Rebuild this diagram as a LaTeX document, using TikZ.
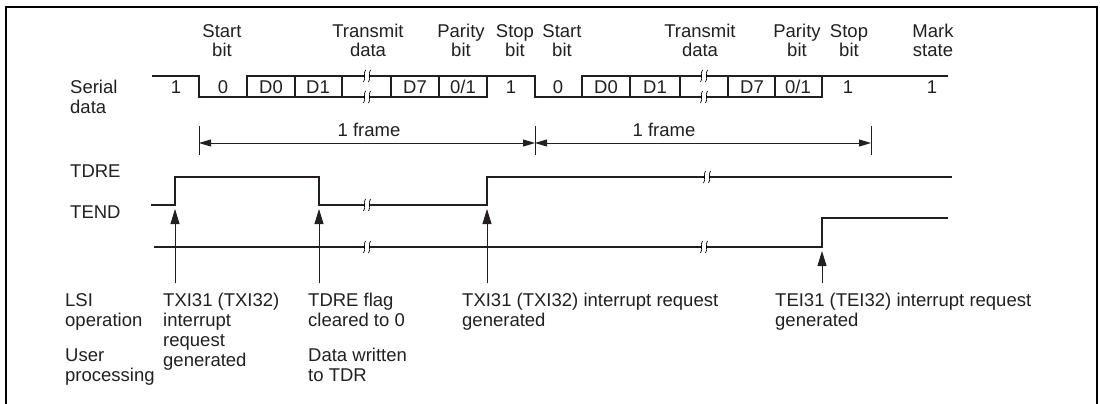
\documentclass[tikz,border=0pt]{standalone}
\usepackage{fontspec}
\setmainfont{Liberation Sans}
\usetikzlibrary{arrows.meta,positioning,calc}
\definecolor{ink}{HTML}{231F20}

% small break mark on a time line
\newcommand\gapmark[2]{%
  \fill[white] (#1-2.5,#2-6) rectangle (#1+2.5,#2+6);
  \draw[line width=0.7pt] (#1-3.5,#2+6) .. controls (#1-0.5,#2+2) and (#1-4.5,#2-2) .. (#1-1.5,#2-6);
  \draw[line width=0.7pt] (#1+1.5,#2+6) .. controls (#1+4.5,#2+2) and (#1+0.5,#2-2) .. (#1+3.5,#2-6);
}

\begin{document}
\begin{tikzpicture}[x=1pt,y=-1pt,
    txt/.style={inner sep=0pt, font=\fontsize{18.5}{20}\selectfont, text=ink, align=left, anchor=base west},
    ctxt/.style={txt, align=center, anchor=base},
    bus/.style={line width=2pt, line join=miter, draw=ink},
    wave/.style={line width=2.6pt, line join=miter, draw=ink},
    dim/.style={line width=0.9pt, draw=ink},
    evt/.style={line width=0.9pt, draw=ink, fill=ink, -{Triangle[length=15pt,width=9pt]}}]
  \useasboundingbox (0,0) rectangle (1100,404);
  \draw[line width=2.2pt] (6,404) -- (6,7) -- (1097,7) -- (1097,404);

  % field names (anchored on the last line)
  \node[ctxt] (st1) at (222,57) {Start\\bit};
  \node[ctxt] (tx1) at (368,57) {Transmit\\data};
  \node[ctxt] (pa1) at (461,57) {Parity\\bit};
  \node[ctxt] (sp1) at (515,57) {Stop\\bit};
  \node[ctxt] (st2) at (562,57) {Start\\bit};
  \node[ctxt] (tx2) at (700,57) {Transmit\\data};
  \node[ctxt] (pa2) at (797,57) {Parity\\bit};
  \node[ctxt] (sp2) at (849,57) {Stop\\bit};
  \node[ctxt] (mk) at (933,57) {Mark\\state};

  % serial data
  \node[txt] (serial) at (70,113) {Serial\\data};
  \draw[bus] (152,76) -- (199,76) -- (199,97) -- (487,97) -- (487,76) -- (535,76)
    -- (535,97) -- (822,97) -- (822,76) -- (948,76);
  \draw[bus] (247,97) -- (247,76) -- (487,76);
  \draw[bus] (582,97) -- (582,76) -- (822,76);
  \foreach \x in {295,342,391,439,630,680,728,775}
    \draw[bus] (\x,76) -- (\x,97);
  \foreach \x in {367,704} {
    \gapmark{\x}{76}
    \gapmark{\x}{97}
  }
  \foreach \x/\v [count=\i] in {176/1,223/0,271/D0,318/D1,415/D7,463/0\slash 1,511/1,
      558/0,606/D0,655/D1,752/D7,798/0\slash 1,848/1,932/1}
    \node[ctxt] (b\i) at (\x,93) {\v};

  % frame length
  \coordinate (f0) at (199,143);
  \coordinate (f1) at (535,143);
  \coordinate (f2) at (871,143);
  \foreach \c in {f0,f1,f2}
    \draw[dim] ($(\c)+(0,-17)$) -- ($(\c)+(0,12)$);
  \draw[dim, {Triangle[length=12pt,width=7pt]}-{Triangle[length=12pt,width=7pt]}] (f0) -- (f1);
  \draw[dim, {Triangle[length=12pt,width=7pt]}-{Triangle[length=12pt,width=7pt]}] (f1) -- (f2);
  \node[ctxt] (fr1) at (369,136) {1 frame};
  \node[ctxt] (fr2) at (664,136) {1 frame};

  % flags
  \node[txt] (tdre) at (70,177) {TDRE};
  \node[txt] (tend) at (70,218) {TEND};
  \draw[wave] (151,205) -- (175,205) -- (175,177) -- (319,177) -- (319,205) -- (487,205)
    -- (487,177) -- (952,177);
  \draw[wave] (154,247) -- (822,247) -- (822,218) -- (948,218);
  \gapmark{367}{205}
  \gapmark{707}{177}
  \gapmark{367}{247}
  \gapmark{704}{247}

  % events
  \coordinate (e1) at (175,283);
  \coordinate (e2) at (319,283);
  \coordinate (e3) at (487,283);
  \coordinate (e4) at (822,283);
  \coordinate (h1) at (175,209);
  \coordinate (h2) at (319,209);
  \coordinate (h3) at (487,209);
  \coordinate (h4) at (822,251);
  \foreach \i in {1,...,4}
    \draw[evt] (e\i) -- (h\i);

  % what happens (anchored on the last line)
  \node[txt] (lsi) at (65,326) {LSI\\operation};
  \node[txt] (usr) at (65,381) {User\\processing};
  \node[txt] (txi1) at (163,366) {TXI31 (TXI32)\\interrupt\\request\\generated};
  \node[txt] (clr) at (308,326) {TDRE flag\\cleared to 0};
  \node[txt] (wr) at (308,381) {Data written\\to TDR};
  \node[txt] (txi2) at (462,326) {TXI31 (TXI32) interrupt request\\generated};
  \node[txt] (tei) at (775,326) {TEI31 (TEI32) interrupt request\\generated};
\end{tikzpicture}
\end{document}
